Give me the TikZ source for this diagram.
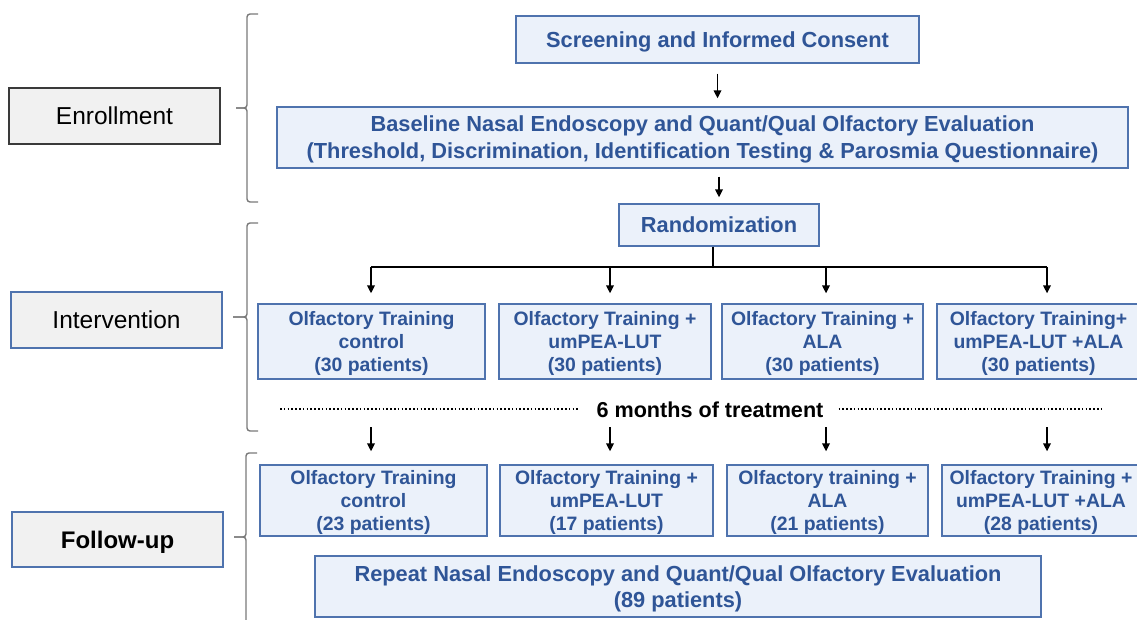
\documentclass[tikz,border=0pt]{standalone}
\usepackage{fontspec}
\setmainfont{Liberation Sans}
\usetikzlibrary{arrows.meta}
\definecolor{txtblue}{HTML}{2F5597}
\definecolor{boxfill}{HTML}{EBF1FA}
\definecolor{boxline}{HTML}{4F73AE}
\definecolor{labfill}{HTML}{F1F1F1}
\definecolor{labline}{HTML}{3A3A3A}
\definecolor{bracegray}{HTML}{7A7A7A}
\begin{document}
\begin{tikzpicture}[x=1pt,y=-1pt,
  flowbox/.style={draw=boxline, fill=boxfill, line width=1.3pt, text=txtblue, align=center, inner sep=0pt, text depth=0pt, font=\bfseries\fontsize{19.4}{23}\selectfont},
  bigbox/.style={flowbox, font=\bfseries\fontsize{21.8}{27}\selectfont},
  phase/.style={draw=boxline, fill=labfill, line width=1.3pt, inner sep=0pt, text depth=0pt, font=\fontsize{24.5}{28}\selectfont},
  arr/.style={-{Triangle[length=8pt,width=7.5pt]}, line width=1.7pt},
  link/.style={line width=1.9pt},
  bracepath/.style={draw=bracegray, line width=1.4pt, rounded corners=3pt},
  dotline/.style={line width=1.8pt, dash pattern=on 1.6pt off 2.2pt}
]
\useasboundingbox (0,0) rectangle (1137,620);

% phase labels
\node[phase, draw=labline, minimum width=211pt, minimum height=56pt] (enr) at (114.5,116) {Enrollment};
\node[phase, minimum width=211pt, minimum height=56pt] (int) at (116.5,320) {Intervention};
\node[phase, minimum width=211pt, minimum height=55pt, font=\bfseries\fontsize{24}{28}\selectfont] (fol) at (117.5,539.5) {Follow-up};

% braces
\draw[bracepath] (258,14) -- (247,14) -- (247,108) -- (236,108);
\draw[bracepath] (236,108) -- (247,108) -- (247,202) -- (258,202);
\draw[bracepath] (258,223) -- (247,223) -- (247,317) -- (233,317);
\draw[bracepath] (233,317) -- (247,317) -- (247,431) -- (258,431);
\draw[bracepath] (257,453) -- (246,453) -- (246,537) -- (234,537);
\draw[bracepath] (234,537) -- (246,537) -- (246,630);

% enrollment flow
\node[bigbox, minimum width=403pt, minimum height=47pt] (scr) at (717.5,39.5) {Screening and Informed Consent};
\node[bigbox, minimum width=851pt, minimum height=61pt] (base) at (702.5,137.5)
  {Baseline Nasal Endoscopy and Quant/Qual Olfactory Evaluation\\(Threshold, Discrimination, Identification Testing \& Parosmia Questionnaire)};
\node[bigbox, minimum width=200pt, minimum height=42pt] (rand) at (719,225) {Randomization};

\draw[arr, shorten <=10pt, shorten >=8pt] (scr.south) -- (scr.south |- base.north);
\draw[arr, shorten <=8pt, shorten >=6pt] (base.south -| rand.south) -- (rand.north);

% intervention boxes
\node[flowbox, minimum width=227pt, minimum height=75pt] (i1) at (371.5,341.5) {Olfactory Training\\control\\(30 patients)};
\node[flowbox, minimum width=212pt, minimum height=75pt] (i2) at (605,341.5) {Olfactory Training +\\umPEA-LUT\\(30 patients)};
\node[flowbox, minimum width=201pt, minimum height=75pt] (i3) at (822.5,341.5) {Olfactory Training +\\ALA\\(30 patients)};
\node[flowbox, minimum width=203pt, minimum height=75pt] (i4) at (1038.5,341.5) {Olfactory Training+\\umPEA-LUT +ALA\\(30 patients)};

\coordinate (split) at (713,267);
\coordinate (h1) at (371,267);
\coordinate (h2) at (610,267);
\coordinate (h3) at (826,267);
\coordinate (h4) at (1047,267);
\draw[link] (split |- rand.south) -- (split);
\draw[link] (h1) -- (h4);
\draw[arr, shorten >=10pt] (h1) -- (h1 |- i1.north);
\draw[arr, shorten >=10pt] (h2) -- (h2 |- i2.north);
\draw[arr, shorten >=10pt] (h3) -- (h3 |- i3.north);
\draw[arr, shorten >=10pt] (h4) -- (h4 |- i4.north);

% treatment period
\node[inner sep=0pt, text depth=0pt, font=\bfseries\fontsize{21.6}{25}\selectfont] (treat) at (710,410) {6 months of treatment};
\coordinate (dl) at (280,409);
\coordinate (dr) at (1103,409);
\draw[dotline, shorten >=17pt] (dl) -- (dl -| treat.west);
\draw[dotline, shorten <=15pt] (dr -| treat.east) -- (dr);

% follow-up boxes
\node[flowbox, minimum width=227pt, minimum height=71pt] (f1) at (373.5,500.5) {Olfactory Training\\control\\(23 patients)};
\node[flowbox, minimum width=213pt, minimum height=71pt] (f2) at (606.5,500.5) {Olfactory Training +\\umPEA-LUT\\(17 patients)};
\node[flowbox, minimum width=201pt, minimum height=71pt] (f3) at (827.5,500.5) {Olfactory training +\\ALA\\(21 patients)};
\node[flowbox, minimum width=198pt, minimum height=71pt] (f4) at (1041,500.5) {Olfactory Training +\\umPEA-LUT +ALA\\(28 patients)};

\coordinate (t1) at (371,427);
\coordinate (t2) at (610,427);
\coordinate (t3) at (826,427);
\coordinate (t4) at (1047,427);
\draw[arr, shorten >=13pt] (t1) -- (t1 |- f1.north);
\draw[arr, shorten >=13pt] (t2) -- (t2 |- f2.north);
\draw[arr, shorten >=13pt] (t3) -- (t3 |- f3.north);
\draw[arr, shorten >=13pt] (t4) -- (t4 |- f4.north);

\node[bigbox, font=\bfseries\fontsize{21.8}{26}\selectfont, minimum width=726pt, minimum height=61pt] (rep) at (678,586.5)
  {Repeat Nasal Endoscopy and Quant/Qual Olfactory Evaluation\\(89 patients)};
\end{tikzpicture}
\end{document}
